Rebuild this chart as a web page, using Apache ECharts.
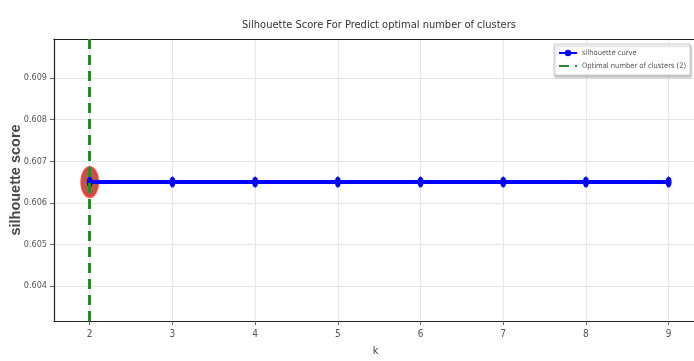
<!DOCTYPE html>
<html>
<head>
<meta charset="utf-8">
<script src="https://cdn.jsdelivr.net/npm/echarts@6/dist/echarts.min.js"></script>
<style>
  html, body { margin: 0; padding: 0; background: #fff; }
  #chart { width: 694px; height: 361px; }
</style>
</head>
<body>
<div id="chart"></div>
<script>
const kValues = [2, 3, 4, 5, 6, 7, 8, 9];
const scores = [0.6065, 0.6065, 0.6065, 0.6065, 0.6065, 0.6065, 0.6065, 0.6065];
const optimalK = 2;
const optimalScore = 0.6065;
const yTicks = [0.604, 0.605, 0.606, 0.607, 0.608, 0.609];

const narrow = "'Liberation Sans Narrow', 'DejaVu Sans Condensed', 'Liberation Sans', sans-serif";
const chart = echarts.init(document.getElementById('chart'));

chart.setOption({
  animation: false,
  title: {
    text: 'Silhouette Score For Predict optimal number of clusters',
    left: 374,
    textAlign: 'center',
    top: 15,
    textStyle: { fontFamily: narrow, fontSize: 11, fontWeight: 'normal', color: '#333' },
  },
  legend: {
    data: [
      { name: 'silhouette curve' },
      { name: 'Optimal number of clusters (2)', itemStyle: { opacity: 0 } },
    ],
    orient: 'vertical',
    left: 554,
    top: 44,
    padding: [5, 4],
    itemGap: 5,
    itemWidth: 18,
    itemHeight: 8,
    backgroundColor: '#fff',
    borderColor: '#d0d0d0',
    borderWidth: 1,
    shadowColor: 'rgba(0,0,0,0.25)',
    shadowOffsetX: 1,
    shadowOffsetY: 2,
    shadowBlur: 2,
    textStyle: { fontFamily: narrow, fontSize: 7.5, color: '#555' },
  },
  grid: { left: 54, top: 39, right: -3, bottom: 40, outerBoundsMode: 'none' },
  xAxis: [
    {
      type: 'value',
      min: 1.568,
      max: 9.343,
      name: 'k',
      nameLocation: 'middle',
      nameGap: 25,
      nameTextStyle: { fontFamily: narrow, fontSize: 11, color: '#444' },
      axisLine: { lineStyle: { color: '#222', width: 1.2 } },
      axisTick: { customValues: kValues, length: 4, lineStyle: { color: '#666' } },
      axisLabel: { customValues: kValues, fontFamily: narrow, fontSize: 10, color: '#555', margin: 8 },
      splitLine: { show: true, lineStyle: { color: '#e6e6e6' } },
    },
    {
      type: 'value',
      position: 'top',
      min: 1.568,
      max: 9.343,
      axisLine: { show: true, lineStyle: { color: '#222', width: 1.2 } },
      axisTick: { show: false },
      axisLabel: { show: false },
      splitLine: { show: false },
    },
  ],
  yAxis: {
    type: 'value',
    min: 0.60316,
    max: 0.60994,
    name: 'silhouette score',
    nameLocation: 'middle',
    nameGap: 31,
    nameMoveOverlap: false,
    nameTextStyle: { fontFamily: 'Liberation Sans', fontSize: 14.5, fontWeight: 'bold', color: '#484848' },
    axisLine: { show: true, lineStyle: { color: '#222', width: 1.2 } },
    axisTick: { show: true, customValues: yTicks, length: 4, lineStyle: { color: '#666' } },
    axisLabel: {
      customValues: yTicks,
      fontFamily: narrow,
      fontSize: 9,
      color: '#555',
      margin: 7,
      formatter: (v) => v.toFixed(3),
    },
    splitLine: { show: true, lineStyle: { color: '#e6e6e6' } },
  },
  series: [
    {
      name: 'optimal marker',
      type: 'scatter',
      data: [[optimalK, optimalScore]],
      symbol: 'circle',
      symbolSize: [17, 29],
      itemStyle: { color: '#b02c1a', borderColor: '#f03232', borderWidth: 2.5 },
      z: 3,
    },
    {
      name: 'silhouette curve',
      type: 'line',
      data: kValues.map((k, i) => [k, scores[i]]),
      symbol: 'circle',
      symbolSize: [6, 11],
      lineStyle: { color: '#0000ff', width: 4 },
      itemStyle: { color: '#0000ff' },
      z: 4,
    },
    {
      name: 'Optimal number of clusters (2)',
      type: 'line',
      data: [],
      symbol: 'none',
      lineStyle: { color: '#2c8a2c', width: 3, type: [10, 6] },
      itemStyle: { color: '#2c8a2c' },
      markLine: {
        symbol: 'none',
        silent: true,
        label: { show: false },
        lineStyle: { color: '#2c8a2c', width: 3, type: [10, 6] },
        data: [{ xAxis: optimalK }],
      },
      z: 2,
    },
  ],
});
</script>
</body>
</html>
